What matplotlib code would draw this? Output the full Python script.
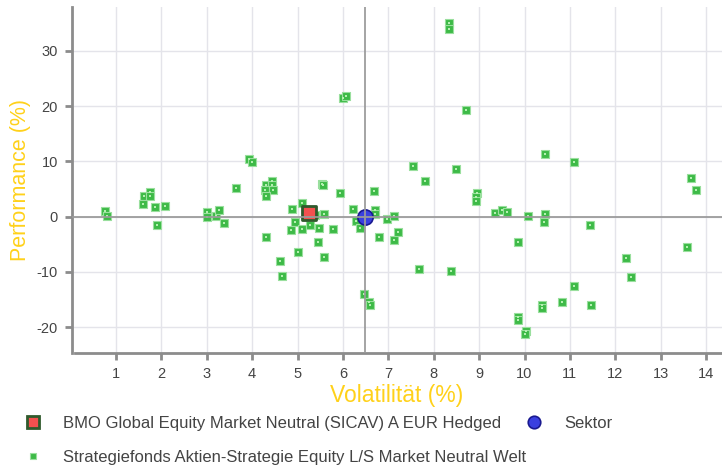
import matplotlib
matplotlib.use('Agg')
import matplotlib.pyplot as plt
from matplotlib.lines import Line2D

plt.rcParams['font.family'] = ['Liberation Sans', 'DejaVu Sans']
plt.rcParams['axes.unicode_minus'] = False

# Vergleichsfonds (Volatilität %, Performance %)
peer_vol = [0.76, 0.81, 1.62, 1.75, 1.75, 1.60, 1.86, 2.09, 1.90, 3.00,
            3.00, 3.21, 3.26, 3.37, 3.65, 3.92, 3.99, 4.30, 4.44, 4.44,
            4.28, 4.45, 4.30, 4.30, 4.61, 4.66, 4.88, 5.10, 4.95, 4.86,
            5.09, 5.00, 5.27, 5.47, 5.44, 5.58, 5.38, 5.58, 5.54, 5.56,
            5.78, 5.93, 5.99, 6.07, 6.23, 6.29, 6.37, 6.46, 6.58, 6.59,
            6.69, 6.70, 6.71, 6.80, 6.97, 7.12, 7.12, 7.22, 7.54, 7.81,
            7.67, 8.34, 8.34, 8.70, 8.49, 8.38, 8.95, 8.92, 8.94, 9.36,
            9.50, 9.62, 9.85, 9.85, 9.85, 10.03, 10.02, 10.08, 10.45, 10.43,
            10.44, 10.38, 10.38, 10.82, 11.08, 11.08, 11.44, 11.47, 12.23, 12.34,
            13.57, 13.66, 13.77]
peer_perf = [1.08, 0.18, 3.7, 4.4, 3.7, 2.3, 1.75, 2.0, -1.5, 0.84,
             0.0, 0.1, 1.2, -1.2, 5.1, 10.5, 9.8, 5.7, 6.4, 5.7,
             4.8, 4.8, 3.7, -3.6, -8.1, -10.7, 1.4, 2.5, -1.0, -2.5,
             -2.2, -6.4, -1.6, -2.0, -4.6, 0.4, 0.3, -7.3, 5.9, 5.7,
             -2.3, 4.2, 21.4, 21.9, 1.4, -0.8, -2.0, -14.0, -15.5, -16.0,
             4.7, 1.2, 0.5, -3.7, -0.4, 0.1, -4.2, -2.8, 9.1, 6.5,
             -9.5, 35.1, 34.0, 19.2, 8.7, -9.9, 4.2, 3.6, 2.9, 0.6,
             1.2, 0.8, -4.5, -18.1, -18.7, -20.7, -21.3, 0.06, 0.4, -1.0,
             11.4, -16.0, -16.6, -15.4, 9.9, -12.5, -1.6, -15.9, -7.4, -11.0,
             -5.4, 7.0, 4.9]

fund_name = 'BMO Global Equity Market Neutral (SICAV) A EUR Hedged'
fund_vol, fund_perf = 5.25, 0.6
sector_name = 'Sektor'
sector_vol, sector_perf = 6.49, 0.0
peer_name = 'Strategiefonds Aktien-Strategie Equity L/S Market Neutral Welt'

x_ticks = list(range(1, 15))
y_ticks = [-20, -10, 0, 10, 20, 30]

fig = plt.figure(figsize=(7.22, 4.65), dpi=100)
ax = fig.add_axes([0.0993, 0.2409, 0.9007, 0.744])

gray = '#8c8c8c'
ax.set_xlim(0.024, 14.35)
ax.set_ylim(-24.65, 37.9)
ax.set_xticks(x_ticks)
ax.set_yticks(y_ticks)
ax.grid(True, color='#e4e4ea', linewidth=1)
ax.set_axisbelow(True)

for side in ['top', 'right']:
    ax.spines[side].set_visible(False)
for side in ['left', 'bottom']:
    ax.spines[side].set_color(gray)
    ax.spines[side].set_linewidth(2)
ax.spines['bottom'].set_bounds(0.1, 14.35)

ax.tick_params(axis='both', colors=gray, width=2, length=5,
               labelsize=10.5, labelcolor='#444444', pad=5)

# Peer-Fonds
peer_green = '#3dba47'
ax.scatter(peer_vol, peer_perf, marker='s', s=40, c=peer_green,
           edgecolors='#9adf9e', linewidths=0.8, zorder=3)
ax.scatter(peer_vol, peer_perf, marker='s', s=3, c='#b4f0b0',
           linewidths=0, zorder=4)

# Fonds und Sektor
ax.scatter([fund_vol], [fund_perf], marker='s', s=95, c='#f4504f',
           edgecolors='#2f5a2c', linewidths=2, zorder=5)
ax.scatter([sector_vol], [sector_perf], marker='o', s=120, c='#3a40e0',
           edgecolors='#1a1a90', linewidths=1.2, zorder=5)

# Achsenkreuz durch den Sektor
ax.axhline(sector_perf, color='#9a9a9a', linewidth=1.4, alpha=0.9, zorder=6)
ax.axvline(sector_vol, color='#9a9a9a', linewidth=1.4, alpha=0.9, zorder=6)

ax.set_xlabel('Volatilität (%)', color='#ffd11a', fontsize=16.5, labelpad=2)
ax.set_ylabel('Performance (%)', color='#ffd11a', fontsize=15.5, labelpad=4)

# Legende
h_fund = Line2D([], [], linestyle='none', marker='s', markersize=8,
                markerfacecolor='#f4504f', markeredgecolor='#2f5a2c',
                markeredgewidth=2)
h_peer = Line2D([], [], linestyle='none', marker='s', markersize=5,
                markerfacecolor=peer_green, markeredgecolor='#9adf9e',
                markeredgewidth=0.8)
h_sector = Line2D([], [], linestyle='none', marker='o', markersize=9,
                  markerfacecolor='#3a40e0', markeredgecolor='#1a1a90',
                  markeredgewidth=1.2)

leg1 = fig.legend([h_fund, h_peer], [fund_name, peer_name], loc='upper left',
                  bbox_to_anchor=(0.011, 0.123), frameon=False, fontsize=12,
                  labelcolor='#444444', borderpad=0, labelspacing=1.15,
                  handlelength=2, handletextpad=0.8)
leg2 = fig.legend([h_sector], [sector_name], loc='upper left',
                  bbox_to_anchor=(0.705, 0.123), frameon=False, fontsize=12,
                  labelcolor='#444444', borderpad=0,
                  handlelength=2, handletextpad=0.8)

plt.savefig('out.png', dpi=100)
plt.close()
